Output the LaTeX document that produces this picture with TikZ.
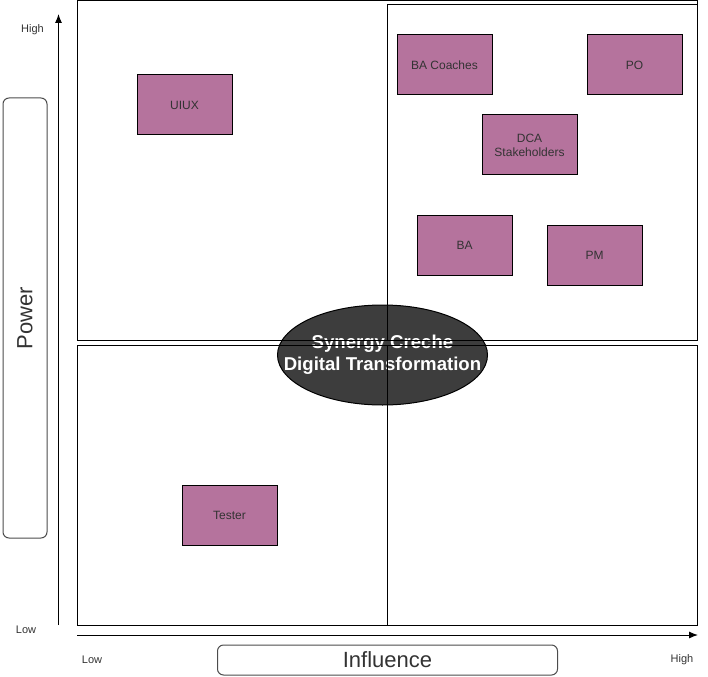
\documentclass[tikz,border=0pt]{standalone}
\usepackage{fontspec}
\setmainfont{Liberation Sans}
\usetikzlibrary{shapes.geometric,arrows.meta}
\definecolor{boxfill}{HTML}{B5739D}
\definecolor{ellfill}{HTML}{3D3D3D}
\definecolor{labtext}{HTML}{333333}
\tikzset{
  stake/.style={draw=black, line width=1pt, fill=boxfill, minimum width=95pt, minimum height=60pt, inner sep=0pt, align=center, text=labtext, font=\fontsize{12}{14}\selectfont},
  quad/.style={draw=black, line width=1pt},
  axislab/.style={text=labtext, font=\fontsize{11}{13}\selectfont, inner sep=0pt},
  axisarrow/.style={draw=black, line width=1pt, -{Latex[length=9pt,width=7pt]}},
  titlebox/.style={draw=black!70, line width=1pt, rounded corners=6pt, inner sep=0pt}
}
\begin{document}
\begin{tikzpicture}[x=1pt,y=-1pt]
\useasboundingbox (0,0) rectangle (708,676);
% central ellipse (drawn first; quadrant lines run over it)
\node[ellipse, draw=black, line width=1pt, fill=ellfill, minimum width=210pt, minimum height=100pt, inner sep=0pt] (core) at (382.5,355) {};
\node[align=center, text=white, inner sep=0pt, font=\bfseries\fontsize{18.6}{22}\selectfont] (coretext) at (core.center) {Synergy Creche\\Digital Transformation};
% quadrants
\draw[quad] (77,1) rectangle (697,340.5);
\draw[quad] (387,5) rectangle (697,340.5);
\draw[quad] (77,345) rectangle (697,625);
\draw[quad] (387,345) -- (387,625);
% stakeholders
\node[stake] (uiux) at (184.5,105) {UIUX};
\node[stake] (bacoach) at (444.5,65) {BA Coaches};
\node[stake] (po) at (634.5,65) {PO};
\node[stake] (dca) at (529.5,145) {DCA\\Stakeholders};
\node[stake] (ba) at (464.5,245) {BA};
\node[stake] (pm) at (594.5,255) {PM};
\node[stake] (tester) at (229.5,515) {Tester};
% axes
\coordinate (yfrom) at (58.5,625);
\coordinate (yto) at (58.5,14);
\coordinate (xfrom) at (77,635);
\coordinate (xto) at (698,635);
\draw[axisarrow] (yfrom) -- (yto);
\draw[axisarrow] (xfrom) -- (xto);
% axis labels
\node[axislab] (yhigh) at (32.5,30) {High};
\node[axislab] (ylow) at (26,630) {Low};
\node[axislab] (xlow) at (92,660) {Low};
\node[axislab] (xhigh) at (682,660) {High};
% axis titles
\node[titlebox, minimum width=44pt, minimum height=440pt] (powerbox) at (25,318) {};
\node[rotate=90, text=labtext, font=\fontsize{22}{26}\selectfont, inner sep=0pt] (power) at (powerbox.center) {Power};
\node[titlebox, minimum width=340pt, minimum height=30pt, text=labtext, font=\fontsize{22}{26}\selectfont] (influence) at (387.5,660) {Influence};
\end{tikzpicture}
\end{document}
